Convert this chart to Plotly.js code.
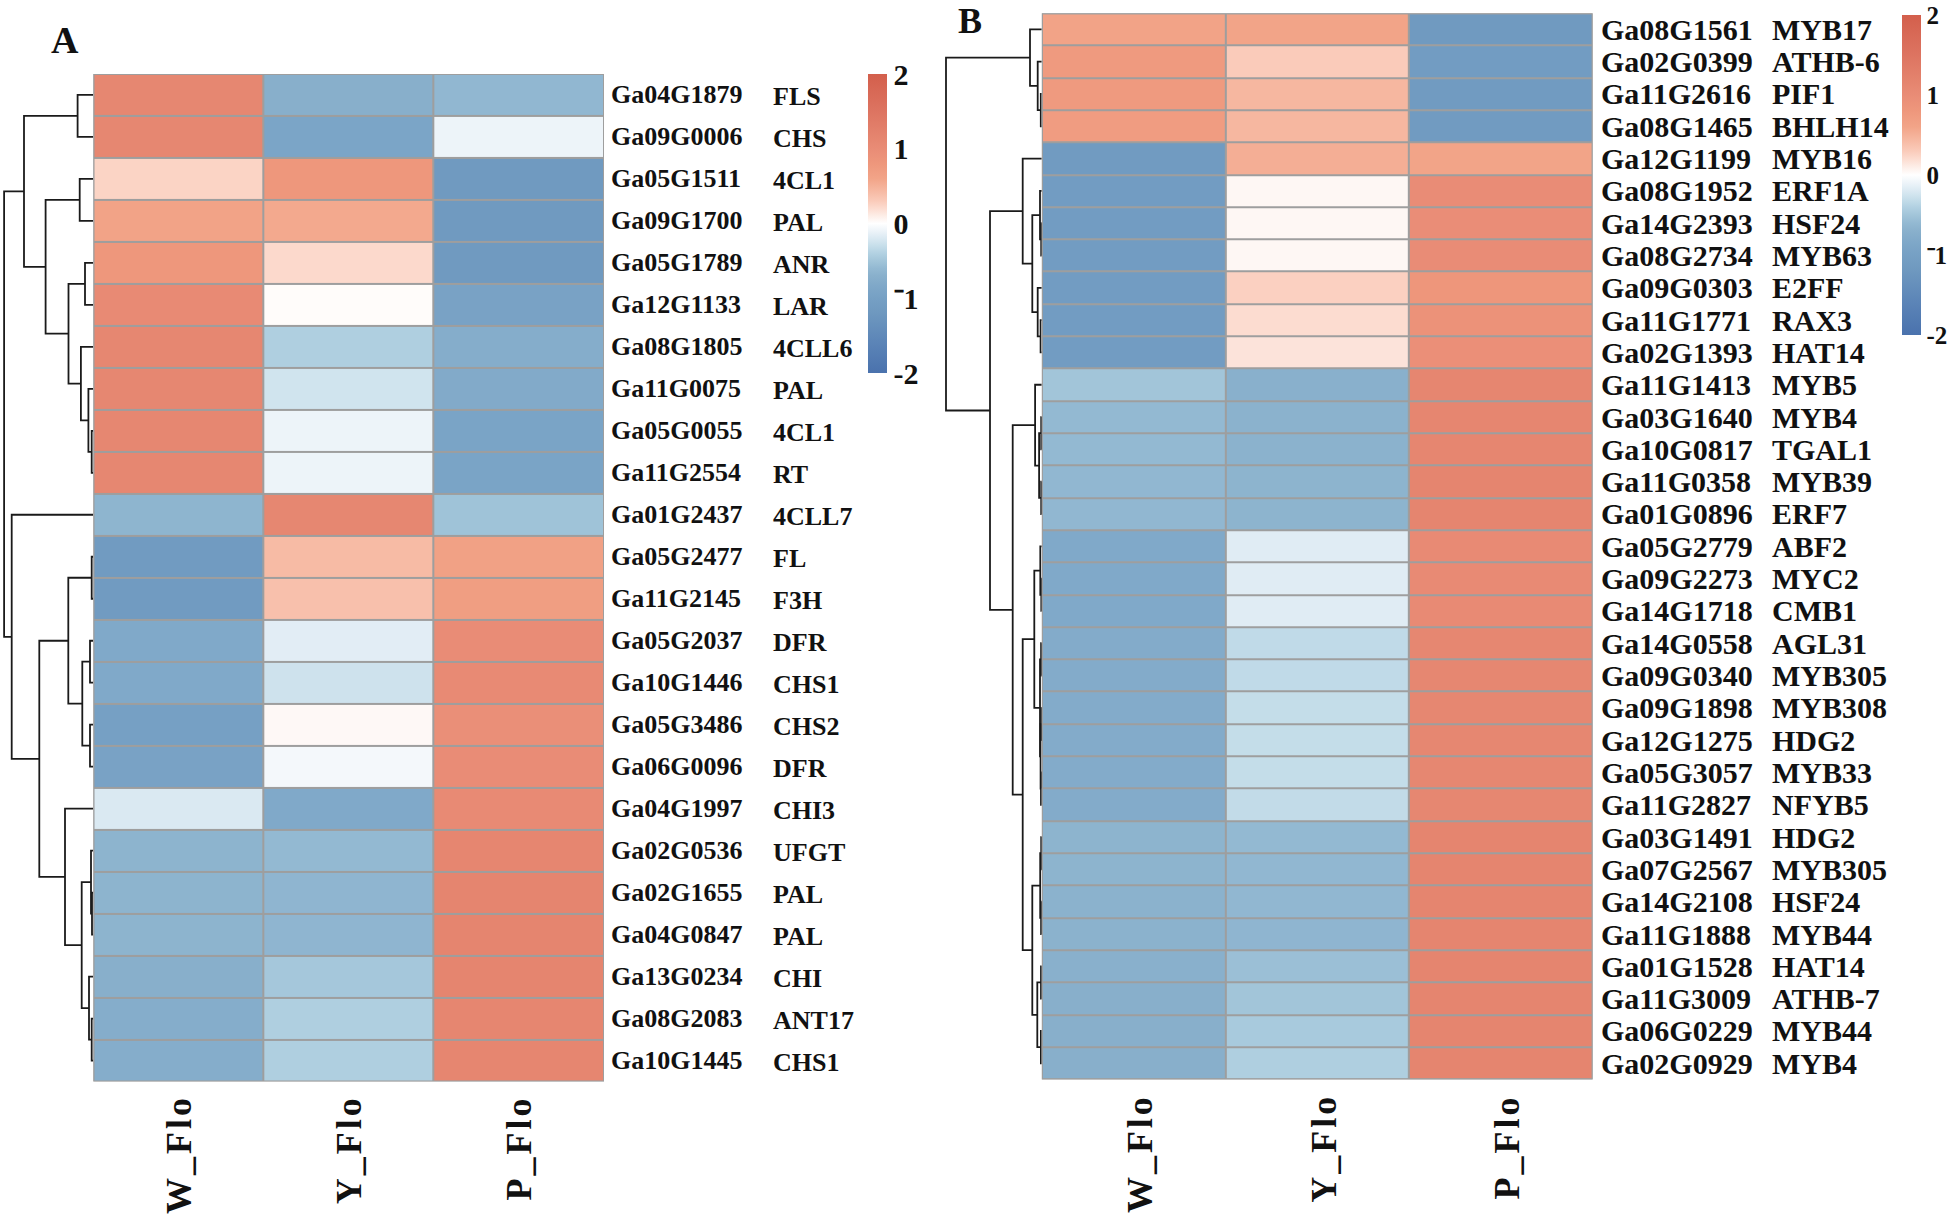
<!DOCTYPE html>
<html><head><meta charset="utf-8">
<script src="https://cdn.plot.ly/plotly-3.0.1.min.js"></script>
<style>html,body{margin:0;padding:0;background:#fff}</style>
</head><body><div id="chart" style="width:1950px;height:1220px"></div>
<script>
// ---------- DATA ----------
const samples = ["W_Flo", "Y_Flo", "P_Flo"];

const geneIdsA = ["Ga04G1879","Ga09G0006","Ga05G1511","Ga09G1700","Ga05G1789","Ga12G1133","Ga08G1805","Ga11G0075","Ga05G0055","Ga11G2554","Ga01G2437","Ga05G2477","Ga11G2145","Ga05G2037","Ga10G1446","Ga05G3486","Ga06G0096","Ga04G1997","Ga02G0536","Ga02G1655","Ga04G0847","Ga13G0234","Ga08G2083","Ga10G1445"];
const geneNamesA = ["FLS","CHS","4CL1","PAL","ANR","LAR","4CLL6","PAL","4CL1","RT","4CLL7","FL","F3H","DFR","CHS1","CHS2","DFR","CHI3","UFGT","PAL","PAL","CHI","ANT17","CHS1"];
const wFloA = [1.1, 1.1, 0.25, 0.62, 0.8, 1.05, 1.1, 1.1, 1.1, 1.1, -0.65, -1.12, -1.12, -0.82, -0.82, -1.0, -0.95, -0.2, -0.66, -0.66, -0.66, -0.72, -0.75, -0.75];
const yFloA = [-0.72, -0.9, 0.8, 0.56, 0.22, 0.02, -0.42, -0.25, -0.1, -0.1, 1.1, 0.42, 0.38, -0.16, -0.26, 0.04, -0.06, -0.82, -0.6, -0.64, -0.64, -0.48, -0.42, -0.42];
const pFloA = [-0.62, -0.1, -1.15, -1.15, -1.15, -0.95, -0.75, -0.8, -0.92, -0.92, -0.52, 0.65, 0.7, 1.0, 1.05, 0.95, 1.0, 1.05, 1.12, 1.15, 1.15, 1.15, 1.12, 1.12];
// row dendrogram A: [left, right, height], leaves = row index
const treeA = [
  [[0,1,15.7],[[2,3,13.6],[[4,5,8.3],[6,[7,[8,9,1.6],4.9],12.4],24.8],47.7],69.3],
  [10,[[[11,12,1.6],[[13,14,3.3],[15,16,3.3],11],25],[17,[[18,[19,20,1.3],2.3],[21,[22,23,1.6],4.3],11.6],28.3],54],81.6],
  89.2];

const geneIdsB = ["Ga08G1561","Ga02G0399","Ga11G2616","Ga08G1465","Ga12G1199","Ga08G1952","Ga14G2393","Ga08G2734","Ga09G0303","Ga11G1771","Ga02G1393","Ga11G1413","Ga03G1640","Ga10G0817","Ga11G0358","Ga01G0896","Ga05G2779","Ga09G2273","Ga14G1718","Ga14G0558","Ga09G0340","Ga09G1898","Ga12G1275","Ga05G3057","Ga11G2827","Ga03G1491","Ga07G2567","Ga14G2108","Ga11G1888","Ga01G1528","Ga11G3009","Ga06G0229","Ga02G0929"];
const geneNamesB = ["MYB17","ATHB-6","PIF1","BHLH14","MYB16","ERF1A","HSF24","MYB63","E2FF","RAX3","HAT14","MYB5","MYB4","TGAL1","MYB39","ERF7","ABF2","MYC2","CMB1","AGL31","MYB305","MYB308","HDG2","MYB33","NFYB5","HDG2","MYB305","HSF24","MYB44","HAT14","ATHB-7","MYB44","MYB4"];
const wFloB = [0.62, 0.75, 0.75, 0.72, -1.12, -1.1, -1.1, -1.1, -1.1, -1.1, -1.1, -0.5, -0.6, -0.6, -0.62, -0.62, -0.82, -0.82, -0.82, -0.78, -0.78, -0.78, -0.78, -0.78, -0.78, -0.66, -0.66, -0.68, -0.68, -0.7, -0.72, -0.72, -0.72];
const yFloB = [0.6, 0.3, 0.45, 0.45, 0.52, 0.05, 0.05, 0.05, 0.27, 0.2, 0.16, -0.7, -0.68, -0.68, -0.66, -0.66, -0.17, -0.17, -0.17, -0.33, -0.33, -0.31, -0.31, -0.31, -0.32, -0.6, -0.62, -0.62, -0.64, -0.55, -0.5, -0.46, -0.42];
const pFloB = [-1.15, -1.1, -1.12, -1.12, 0.6, 1.0, 0.98, 1.0, 0.82, 0.9, 0.94, 1.12, 1.12, 1.12, 1.15, 1.15, 1.05, 1.05, 1.05, 1.1, 1.1, 1.1, 1.1, 1.1, 1.1, 1.15, 1.15, 1.15, 1.15, 1.15, 1.15, 1.15, 1.15];
const treeB = [
  [0,[1,[2,3,1.0],4.1],11.8],
  [
    [4,[[5,[6,7,0.6],1.8],[8,[9,10,1.2],4.1],9.5],19.1],
    [
      [11,[[12,13,0.6],[14,15,0.6],2.7],6.7],
      [
        [[16,[17,18,0.5],1.5],[[19,20,0.7],[[21,22,0.5],[23,24,0.8],1.2],1.8],7.5],
        [[[25,26,0.6],[27,28,0.7],1.6],[[29,30,0.8],[31,32,0.9],4.5],9.5],
        19.1],
      29.1],
    51.8],
  95.8];

const colorTickVals = [-2, -1, 0, 1, 2];
const colorTickText = ["-2", "\u207B1", "0", "1", "2"];
const scaleValues = [-2,-1.6,-1.2,-1.0,-0.85,-0.7,-0.6,-0.5,-0.4,-0.3,-0.2,-0.1,0,0.1,0.2,0.3,0.45,0.6,0.8,1.0,1.15,1.5,2];
const scaleColors = ["#4A72AD","#5B84B7","#6E98BF","#76A0C4","#7EA7C8","#89B0CC","#93B9D2","#A2C5D9","#B2D1E2","#C6DEEA","#DAE9F2","#EDF4F9","#FFFFFF","#FDEEE8","#FCDCD0","#FACBBA","#F6B7A0","#F2A488","#EE977C","#E98C76","#E5856F","#DD7461","#D35F4C"];

// ---------- BUILD ----------
const W = 1950, H = 1220;
const px = v => v / W, py = v => 1 - v / H;
const SERIF = "Liberation Serif, Times New Roman, serif";
const zMin = -2, zMax = 2;
const colorscale = scaleValues.map((v, i) => [(v - zMin) / (zMax - zMin), scaleColors[i]]);

function dendro(tree) {
  const xs = [], ys = [];
  (function walk(node) {
    if (typeof node === "number") return { y: node, h: 0 };
    const a = walk(node[0]), b = walk(node[1]), h = node[2];
    xs.push(a.h, h, h, b.h, null);
    ys.push(a.y, a.y, b.y, b.y, null);
    return { y: (a.y + b.y) / 2, h: h };
  })(tree);
  return { xs, ys };
}

const zA = geneIdsA.map((_, i) => [wFloA[i], yFloA[i], pFloA[i]]);
const zB = geneIdsB.map((_, i) => [wFloB[i], yFloB[i], pFloB[i]]);
const colIdx = samples.map((_, i) => i);
const rowA = geneIdsA.map((_, i) => i);
const rowB = geneIdsB.map((_, i) => i);
const dA = dendro(treeA), dB = dendro(treeB);

function cbar(x, yTop, len, fs) {
  return {
    x: px(x), xanchor: "left", xpad: 0,
    y: py(yTop), yanchor: "top", ypad: 0,
    len: len / H, lenmode: "fraction", thickness: 19,
    outlinewidth: 0, ticks: "", tickvals: colorTickVals,
    ticktext: colorTickText, ticklabeloverflow: "allow",
    tickfont: { family: SERIF, size: fs, color: "#111", weight: "bold" }
  };
}

const traces = [
  { type: "heatmap", x: colIdx, y: rowA, z: zA, xaxis: "x", yaxis: "y",
    zmin: zMin, zmax: zMax, colorscale: colorscale, xgap: 2, ygap: 2,
    hoverinfo: "skip", colorbar: cbar(868, 74, 299, 30) },
  { type: "heatmap", x: colIdx, y: rowB, z: zB, xaxis: "x2", yaxis: "y2",
    zmin: zMin, zmax: zMax, colorscale: colorscale, xgap: 2, ygap: 2,
    hoverinfo: "skip", colorbar: cbar(1902, 15, 320, 25) },
  { type: "scatter", mode: "lines", x: dA.xs, y: dA.ys, xaxis: "x3", yaxis: "y",
    line: { color: "#1a1a1a", width: 1.8 }, hoverinfo: "skip", cliponaxis: false, showlegend: false },
  { type: "scatter", mode: "lines", x: dB.xs, y: dB.ys, xaxis: "x4", yaxis: "y2",
    line: { color: "#1a1a1a", width: 1.8 }, hoverinfo: "skip", cliponaxis: false, showlegend: false }
];

const hidden = { showgrid: false, zeroline: false, showticklabels: false, ticks: "", showline: false, fixedrange: true };

const annotations = [];
const rowFont = s => ({ family: SERIF, size: s, color: "#111", weight: "bold" });
geneIdsA.forEach((g, i) => {
  annotations.push({ xref: "paper", yref: "y", x: px(609), y: i, text: g, showarrow: false, xanchor: "left", yanchor: "middle", font: rowFont(26) });
  annotations.push({ xref: "paper", yref: "y", x: px(771), y: i, text: geneNamesA[i], showarrow: false, xanchor: "left", yanchor: "middle", yshift: -2, font: rowFont(26) });
});
geneIdsB.forEach((g, i) => {
  annotations.push({ xref: "paper", yref: "y2", x: px(1599), y: i, text: g, showarrow: false, xanchor: "left", yanchor: "middle", font: rowFont(30) });
  annotations.push({ xref: "paper", yref: "y2", x: px(1770), y: i, text: geneNamesB[i], showarrow: false, xanchor: "left", yanchor: "middle", font: rowFont(30) });
});
samples.forEach((s, i) => {
  const txt = '<span style="letter-spacing:3px">' + s + '</span>';
  annotations.push({ xref: "x", yref: "paper", x: i, y: py(1093), text: txt, showarrow: false, textangle: -90, xanchor: "center", yanchor: "top", font: rowFont(36) });
  annotations.push({ xref: "x2", yref: "paper", x: i, y: py(1092), xshift: 6, text: txt, showarrow: false, textangle: -90, xanchor: "center", yanchor: "top", font: rowFont(36) });
});
annotations.push({ xref: "paper", yref: "paper", x: px(65), y: py(40), text: "A", showarrow: false, xanchor: "center", yanchor: "middle", font: rowFont(38) });
annotations.push({ xref: "paper", yref: "paper", x: px(970), y: py(21), text: "B", showarrow: false, xanchor: "center", yanchor: "middle", font: rowFont(36) });

const gridColor = "#9e9e9e";
const shapes = [
  { type: "rect", xref: "x", yref: "y", x0: -0.5, x1: samples.length - 0.5, y0: -0.5, y1: geneIdsA.length - 0.5, fillcolor: gridColor, line: { width: 0 }, layer: "below" },
  { type: "rect", xref: "x2", yref: "y2", x0: -0.5, x1: samples.length - 0.5, y0: -0.5, y1: geneIdsB.length - 0.5, fillcolor: gridColor, line: { width: 0 }, layer: "below" },
  { type: "rect", xref: "x", yref: "y", x0: -0.5, x1: samples.length - 0.5, y0: -0.5, y1: geneIdsA.length - 0.5, line: { color: gridColor, width: 2 }, layer: "above" },
  { type: "rect", xref: "x2", yref: "y2", x0: -0.5, x1: samples.length - 0.5, y0: -0.5, y1: geneIdsB.length - 0.5, line: { color: gridColor, width: 2 }, layer: "above" }
];

const layout = {
  width: W, height: H, margin: { l: 0, r: 0, t: 0, b: 0, pad: 0 },
  paper_bgcolor: "#ffffff", plot_bgcolor: "rgba(0,0,0,0)", showlegend: false,
  xaxis: Object.assign({ domain: [px(93.3), px(604)], range: [-0.5, samples.length - 0.5], anchor: "y" }, hidden),
  yaxis: Object.assign({ domain: [py(1081.6), py(73.9)], range: [geneIdsA.length - 0.5, -0.5], anchor: "x" }, hidden),
  xaxis2: Object.assign({ domain: [px(1041.8), px(1592.7)], range: [-0.5, samples.length - 0.5], anchor: "y2" }, hidden),
  yaxis2: Object.assign({ domain: [py(1079.4), py(13.2)], range: [geneIdsB.length - 0.5, -0.5], anchor: "x2" }, hidden),
  xaxis3: Object.assign({ domain: [0, px(93.3)], range: [93.3, 0], anchor: "y" }, hidden),
  xaxis4: Object.assign({ domain: [px(941.8), px(1041.8)], range: [100, 0], anchor: "y2" }, hidden),
  annotations: annotations, shapes: shapes
};

Plotly.newPlot("chart", traces, layout, { displayModeBar: false, staticPlot: true });
</script></body></html>
